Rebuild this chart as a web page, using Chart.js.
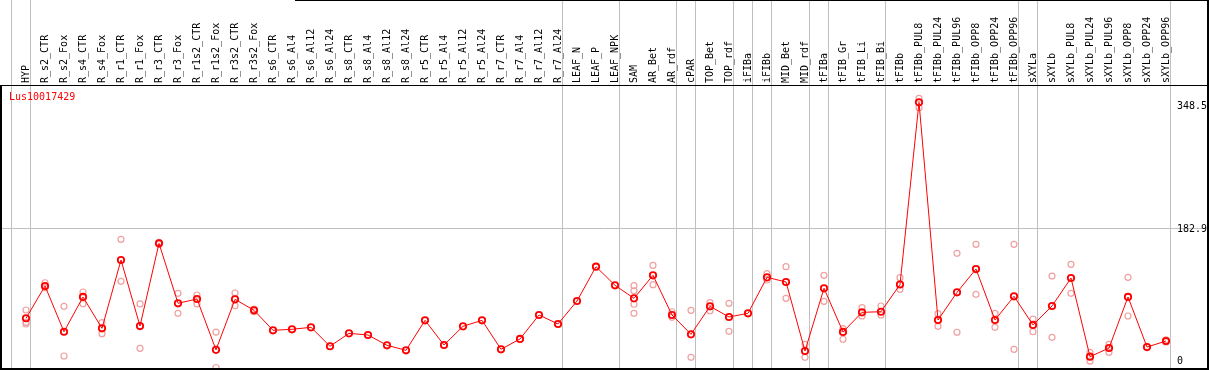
<!DOCTYPE html>
<html><head><meta charset="utf-8">
<script src="https://cdn.jsdelivr.net/npm/chart.js@4/dist/chart.umd.min.js"></script>
<style>html,body{margin:0;padding:0;background:#fff;overflow:hidden}</style>
</head><body>
<canvas id="c" width="1209" height="370"></canvas>
<script>
const geneName = 'Lus10017429';
const categories = ['HYP','R_s2_CTR','R_s2_Fox','R_s4_CTR','R_s4_Fox','R_r1_CTR','R_r1_Fox','R_r3_CTR','R_r3_Fox',
  'R_r1s2_CTR','R_r1s2_Fox','R_r3s2_CTR','R_r3s2_Fox','R_s6_CTR','R_s6_Al4','R_s6_Al12','R_s6_Al24',
  'R_s8_CTR','R_s8_Al4','R_s8_Al12','R_s8_Al24','R_r5_CTR','R_r5_Al4','R_r5_Al12','R_r5_Al24',
  'R_r7_CTR','R_r7_Al4','R_r7_Al12','R_r7_Al24','LEAF_N','LEAF_P','LEAF_NPK','SAM','AR_Bet','AR_rdf',
  'cPAR','TOP_Bet','TOP_rdf','iFIBa','iFIBb','MID_Bet','MID_rdf','tFIBa','tFIB_Gr','tFIB_Li','tFIB_Bi',
  'tFIBb','tFIBb_PUL8','tFIBb_PUL24','tFIBb_PUL96','tFIBb_OPP8','tFIBb_OPP24','tFIBb_OPP96',
  'sXYLa','sXYLb','sXYLb_PUL8','sXYLb_PUL24','sXYLb_PUL96','sXYLb_OPP8','sXYLb_OPP24','sXYLb_OPP96'];
const means = [64.7,107.1,47.0,92.7,51.5,141.3,54.5,163.2,84.4,90.0,23.2,89.6,75.2,48.9,50.2,52.8,27.9,
  44.9,42.7,29.2,22.6,62.0,29.6,54.1,62.0,23.9,37.5,69.0,57.2,87.4,132.5,108.0,90.9,121.2,69.0,
  43.6,80.4,66.4,71.2,118.5,112.4,21.7,104.1,46.7,72.5,73.3,109.1,348.5,62.4,98.8,129.4,62.4,93.6,
  55.9,80.8,117.6,14.2,25.6,92.7,26.9,34.8];
const replicates = [[75.6,59.4,57.2],[111.4,104.9],[80.4,15.1],[99.2,83.8],[58.9,44.4],[168.5,113.3],
  [83.5,25.2],[164.5,161.9],[97.5,71.2],[95.3,83.5],[46.5,0],[97.9,81.2],[76.9,73.3],
  [],[],[],[],[],[],[],[],[],[],[],[],[],[],[],[],[],[],[],
  [107.5,100.9,83.1,71.2],[134.3,108.8],[73.3,66.0],[75.2,13.4],[85.2,74.6],[84.4,47.6],[],
  [123.3,115.0],[132.5,90.9],[30.5,13.4],[121.2,87.0],[51.0,37.1],[78.6,67.7],[80.8,69.0],
  [118.0,102.8],[353.8,341.4],[70.7,54.1],[150.1,46.3],[161.9,96.2],[71.2,52.8],[161.9,23.9],
  [63.7,47.0],[120.2,39.7],[135.6,97.5],[20.0,8.5],[30.5,20.0],[118.5,67.7],[],[36.5,33.5]];
const groupEnds = [-1,0,28,31,34,35,37,38,39,41,42,45,52,53,60];
const yTickValues = [0,182.9,348.5];
const yTickLabels = ['0','182.9','348.5'];

const FONT = 'DejaVu Sans Mono';
const SEP_OFFSET = 4/19;
const X_MIN = -25/19, X_MAX = X_MIN + 1205/19;
const Y_MIN = -1.97, Y_MAX = Y_MIN + 373.24;

const mainPts = means.map((v,i)=>({x:i,y:v}));
const repPts = [];
replicates.forEach((arr,i)=>arr.forEach(v=>repPts.push({x:i,y:v})));

const framePlugin = {
  id:'frame',
  afterDraw(chart){
    const ctx = chart.ctx;
    ctx.save();
    ctx.fillStyle = '#000';
    ctx.fillRect(0,85,1209,1);
    ctx.fillRect(0,85,2,285);
    ctx.fillRect(0,368,1209,2);
    ctx.fillRect(1207,0,2,370);
    ctx.fillRect(295,0,914,1);
    ctx.fillStyle = '#ff0000';
    ctx.font = '10px "' + FONT + '"';
    ctx.textBaseline = 'middle';
    ctx.textAlign = 'left';
    ctx.fillText(geneName, 9, 97);
    ctx.restore();
  }
};

function noPad(s){ s.paddingLeft = 0; s.paddingRight = 0; s.paddingTop = 0; s.paddingBottom = 0; }

new Chart(document.getElementById('c'), {
  type:'scatter',
  data:{datasets:[
    {data:mainPts, showLine:true, borderColor:'#ff0000', borderWidth:1, tension:0,
     pointRadius:3.2, pointBorderWidth:1.8, pointBorderColor:'#ff0000', pointBackgroundColor:'rgba(0,0,0,0)'},
    {data:repPts, showLine:false, pointRadius:3, pointBorderWidth:1.2,
     pointBorderColor:'#f0a0a0', pointBackgroundColor:'rgba(0,0,0,0)'}
  ]},
  options:{
    responsive:false, animation:false, devicePixelRatio:1,
    layout:{autoPadding:false, padding:{left:1,right:3,top:0,bottom:1}},
    plugins:{legend:{display:false}, tooltip:{enabled:false}, title:{display:false}},
    scales:{
      x:{type:'linear', position:'top', min:X_MIN, max:X_MAX, bounds:'data', offset:false,
        afterBuildTicks:s=>{
          const t = categories.map((_,i)=>({value:i}));
          groupEnds.forEach(g=>t.push({value:g+SEP_OFFSET}));
          t.sort((a,b)=>a.value-b.value);
          s.ticks = t;
        },
        afterFit:s=>{ s.height = 85; noPad(s); },
        border:{display:false},
        grid:{drawTicks:true, tickLength:85, lineWidth:1,
          color:c=>(c.tick && !Number.isInteger(c.tick.value)) ? '#c0c0c0' : 'rgba(0,0,0,0)',
          tickColor:c=>(c.tick && !Number.isInteger(c.tick.value)) ? '#c0c0c0' : 'rgba(0,0,0,0)'},
        ticks:{autoSkip:false, minRotation:90, maxRotation:90, padding:-83, labelOffset:12, color:'#000',
          font:{family:FONT, size:10},
          callback:v=>Number.isInteger(v) ? categories[v] : ''}
      },
      y:{type:'linear', position:'right', min:Y_MIN, max:Y_MAX, bounds:'data',
        afterBuildTicks:s=>{ s.ticks = yTickValues.map(v=>({value:v})); },
        afterFit:s=>{ s.width = 0; noPad(s); },
        border:{display:false},
        grid:{drawTicks:false, lineWidth:1, color:c=>c.index===1 ? '#c0c0c0' : 'rgba(0,0,0,0)'},
        ticks:{autoSkip:false, mirror:true, crossAlign:'far', padding:1, color:'#000',
          font:c=>({family:FONT, size:10, lineHeight: c.index===0 ? '13px' : (c.index===2 ? '8.8px' : '2px')}),
          callback:(v,i)=> i===0 ? [yTickLabels[i], ''] : ['', yTickLabels[i]]}
      }
    }
  },
  plugins:[framePlugin]
});
</script>
</body></html>
